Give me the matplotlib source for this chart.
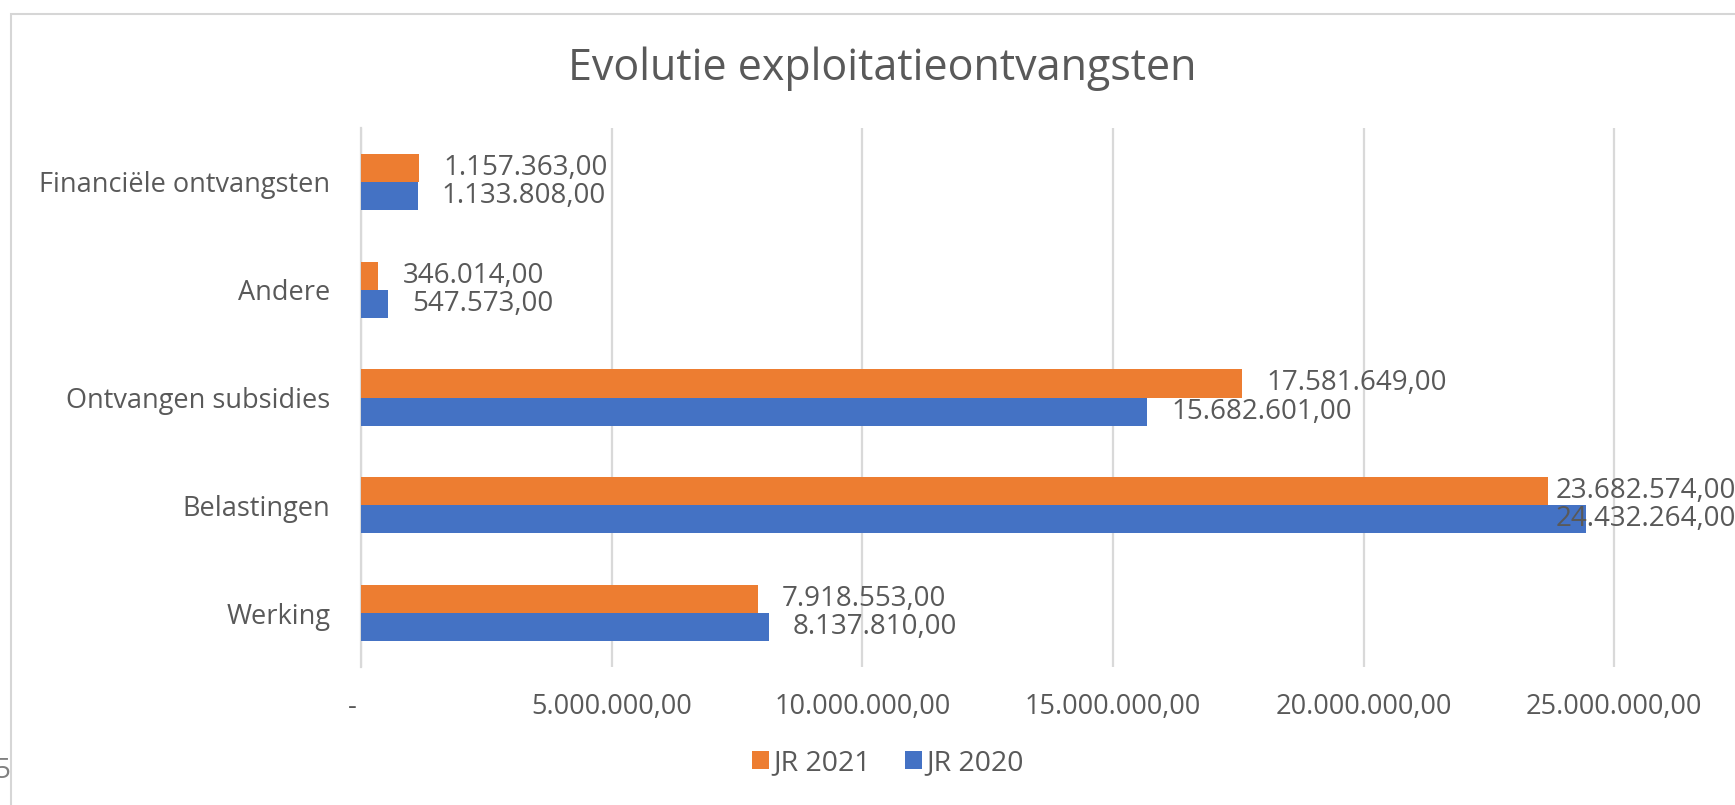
import matplotlib.pyplot as plt
import matplotlib.transforms as mtransforms
from matplotlib.patches import Rectangle

plt.rcParams['font.family'] = ['Open Sans', 'DejaVu Sans']

categories = ['Werking', 'Belastingen', 'Ontvangen subsidies', 'Andere', 'Financiële ontvangsten']
jr2021 = [7918553, 23682574, 17581649, 346014, 1157363]
jr2020 = [8137810, 24432264, 15682601, 547573, 1133808]
series_names = ['JR 2021', 'JR 2020']
xticks = [0, 5000000, 10000000, 15000000, 20000000, 25000000]

orange = '#ED7D31'
blue = '#4472C4'
grey_txt = '#595959'
grid_c = '#d9d9d9'


def fmt(v):
    if v == 0:
        return '-'
    s = '{:,.2f}'.format(v)
    return s.replace(',', 'X').replace('.', ',').replace('X', '.')


W, H = 1735, 805
fig = plt.figure(figsize=(W / 100, H / 100), dpi=100)
ax = fig.add_axes([361 / W, 1 - 667 / H, 1 - 361 / W, (667 - 128) / H])

y = list(range(len(categories)))
h = 0.26
b1 = ax.barh([i + h / 2 for i in y], jr2021, height=h, color=orange, label=series_names[0], zorder=3)
b2 = ax.barh([i - h / 2 for i in y], jr2020, height=h, color=blue, label=series_names[1], zorder=3)

ax.set_xlim(0, 27.41e6)
ax.set_ylim(-0.5, len(categories) - 0.5)
ax.set_yticks(y)
ax.set_yticklabels(categories, fontsize=19.5, color=grey_txt)
ax.set_xticks(xticks)
ax.set_xticklabels([fmt(v) for v in xticks], fontsize=19.5, color=grey_txt)
ax.tick_params(axis='both', length=0)
ax.tick_params(axis='y', pad=22)
ax.tick_params(axis='x', pad=19)
ax.grid(axis='x', color=grid_c, lw=1.6, zorder=0)
for s in ['top', 'right', 'bottom']:
    ax.spines[s].set_visible(False)
ax.spines['left'].set_color(grid_c)
ax.spines['left'].set_linewidth(1.6)

# the "-" of the accounting format sits a bit left of the zero line
zero_lbl = ax.get_xticklabels()[0]
zero_lbl.set_transform(zero_lbl.get_transform() + mtransforms.ScaledTranslation(-0.09, 0, fig.dpi_scale_trans))

# data labels (Excel pushes the ones that would leave the chart back inside)
cap = 23.36e6
for bars, vals in [(b1, jr2021), (b2, jr2020)]:
    for bar, v in zip(bars, vals):
        yc = bar.get_y() + bar.get_height() / 2
        ax.annotate(fmt(v), xy=(min(v, cap), yc), xytext=(24, 0), textcoords='offset pixels',
                    va='center', ha='left', fontsize=20, color=grey_txt, annotation_clip=False)

fig.text(882 / W, 1 - 80 / H, 'Evolutie exploitatieontvangsten', ha='center', va='baseline',
         fontsize=31, color=grey_txt)

fig.legend(handles=[b1, b2], labels=series_names, loc='center', bbox_to_anchor=(888 / W, 1 - 763 / H),
           ncol=2, frameon=False, fontsize=20.5, labelcolor=grey_txt, handlelength=0.6,
           handleheight=0.6, handletextpad=0.15, columnspacing=1.2)

# screenshot frame and clipped glyph at the left edge
fig.patches.append(Rectangle((11 / W, -0.1), 1.2, 1 - 14 / H + 0.1, transform=fig.transFigure,
                             fill=False, edgecolor='#d6d6d6', lw=1.5))
fig.text(2 / W, 1 - 778 / H, '5', ha='center', va='baseline', fontsize=20, color='#808080')

fig.savefig('out.png', dpi=100)
